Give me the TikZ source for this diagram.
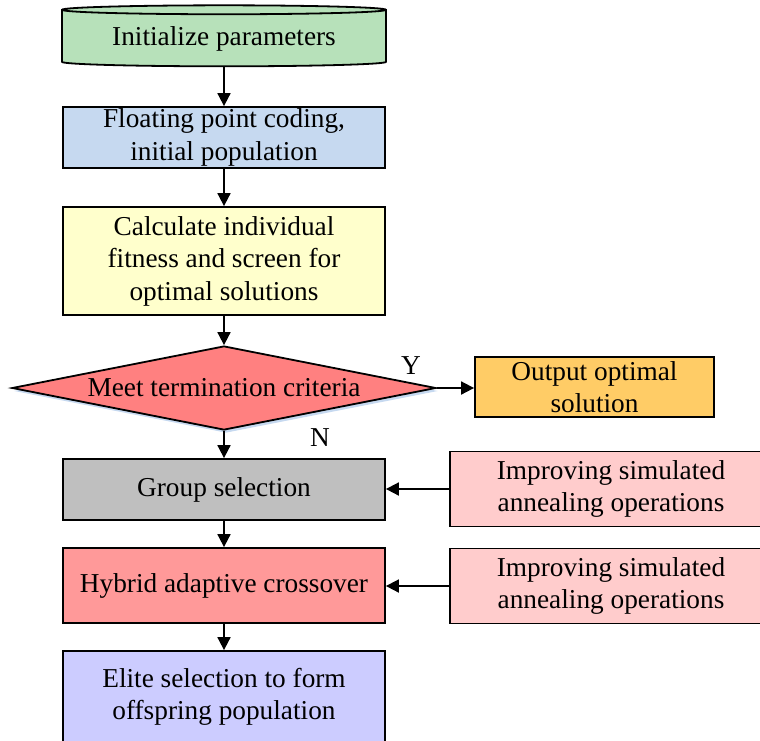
\documentclass[tikz,border=0pt]{standalone}
\usepackage{fontspec}
\setmainfont{Liberation Serif}
\usepackage{tikz}
\usetikzlibrary{shapes,arrows.meta,shadows}

\definecolor{initgreen}{RGB}{183,225,186}
\definecolor{codeblue}{RGB}{198,217,240}
\definecolor{fityellow}{RGB}{255,255,204}
\definecolor{meetred}{RGB}{255,128,128}
\definecolor{shadowblue}{RGB}{198,217,240}
\definecolor{outorange}{RGB}{255,204,102}
\definecolor{graysel}{RGB}{191,191,191}
\definecolor{annealpink}{RGB}{255,204,204}
\definecolor{hybridred}{RGB}{255,153,153}
\definecolor{elitepurple}{RGB}{204,204,255}

\tikzset{
  box/.style={draw, line width=1.8pt, align=center, minimum width=322pt,
    inner sep=0pt, font=\fontsize{27.3}{32.5}\selectfont},
  arr/.style={line width=1.8pt, -{Triangle[length=13pt,width=13pt]}},
  lbl/.style={font=\fontsize{27.3}{30}\selectfont}
}

\begin{document}
\begin{tikzpicture}[x=1pt,y=-1pt]
\clip (0,0) rectangle (760,740);
% main column
\node[cylinder, shape border rotate=90, draw, line width=1.8pt, fill=initgreen,
  minimum width=324pt, minimum height=61pt, aspect=0.04, inner sep=0pt,
  font=\fontsize{27.3}{30}\selectfont] (init) at (224,38.5) {Initialize parameters};
\node[box, fill=codeblue, minimum height=61pt] (code) at (224,137.5)
  {Floating point coding,\\ initial population};
\node[box, fill=fityellow, minimum height=108pt] (fit) at (224,261)
  {Calculate individual\\ fitness and screen for\\ optimal solutions};
\node[diamond, draw, line width=1.8pt, fill=meetred, aspect=5, inner sep=0pt,
  minimum width=424pt, minimum height=84pt,
  general shadow={fill=shadowblue, shadow xshift=2pt, shadow yshift=-3pt},
  font=\fontsize{27.3}{30}\selectfont] (meet) at (224,388) {Meet termination criteria};
\node[box, fill=outorange, minimum width=239pt, minimum height=60pt] (out) at (594.5,387)
  {Output optimal\\ solution};
\node[box, fill=graysel, minimum height=61pt] (group) at (224,489.5) {Group selection};
\node[box, fill=hybridred, minimum height=75pt] (hybrid) at (224,585.5)
  {Hybrid adaptive crossover};
\node[box, fill=elitepurple, minimum height=92pt] (elite) at (224,697)
  {Elite selection to form\\ offspring population};
% side boxes
\node[box, fill=annealpink, minimum height=75pt] (anneal1) at (611,489)
  {Improving simulated\\ annealing operations};
\node[box, fill=annealpink, minimum height=75pt] (anneal2) at (611,586)
  {Improving simulated\\ annealing operations};
\node[lbl] (yes) at (411,366) {Y};
\node[lbl] (no) at (320,438) {N};
% arrows
\draw[arr] (init.south) -- (code.north);
\draw[arr] (code) -- (fit);
\draw[arr] (fit) -- (meet);
\draw[arr] (meet.east) -- (meet.east -| out.west);
\draw[arr] (meet) -- (group);
\draw[arr] (anneal1.west) -- (anneal1.west -| group.east);
\draw[arr] (group) -- (hybrid);
\draw[arr] (anneal2.west) -- (anneal2.west -| hybrid.east);
\draw[arr] (hybrid) -- (elite);
\end{tikzpicture}
\end{document}
